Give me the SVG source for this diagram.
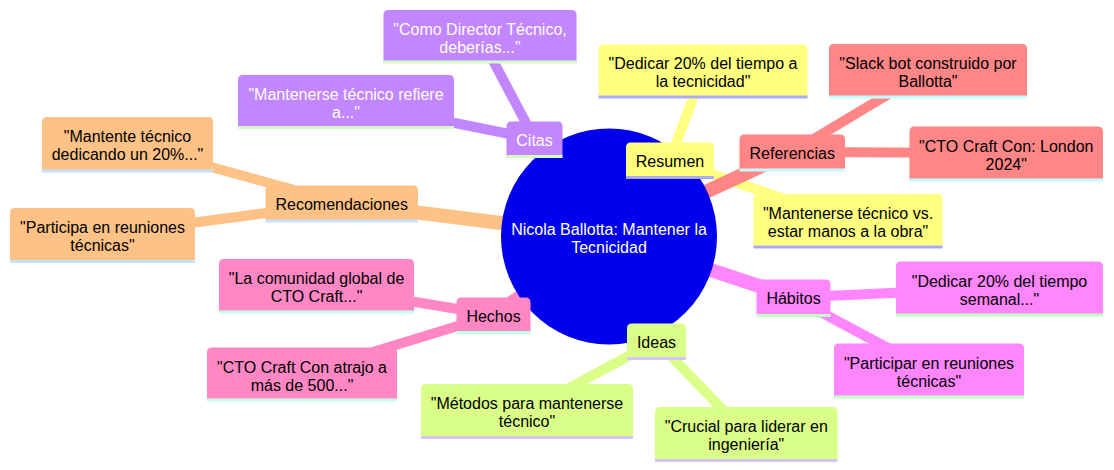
<svg xmlns="http://www.w3.org/2000/svg" width="1114" height="470" viewBox="0 0 1114 470">
<style>
text{font-family:"Liberation Sans",Arial,Helvetica,sans-serif;font-size:16px;text-anchor:middle;fill:#000}
.w text,text.w{fill:#fff}
.e line{stroke-linecap:butt}
.d1{stroke-width:14}
.d2{stroke-width:10}
.bar{stroke-width:3}
.s-cit{fill:#c286ff;stroke:#c286ff}
.s-res{fill:#ffff80;stroke:#ffff80}
.s-ref{fill:#ff8686;stroke:#ff8686}
.s-hab{fill:#ff86ff;stroke:#ff86ff}
.s-ide{fill:#d9ff88;stroke:#d9ff88}
.s-hec{fill:#ff88c4;stroke:#ff88c4}
.s-rec{fill:#ffc286;stroke:#ffc286}
path.s-cit,path.s-res,path.s-ref,path.s-hab,path.s-ide,path.s-hec,path.s-rec{stroke:none}
.b-cit{stroke:#d4fcc4}
.b-res{stroke:#aaaaff}
.b-ref{stroke:#c4ffff}
.b-hab{stroke:#c4ffc4}
.b-ide{stroke:#d4c4ff}
.b-hec{stroke:#c4ffe2}
.b-rec{stroke:#c4e2ff}
</style>
<g id="connectors" class="e">
  <!-- Citas -->
  <line class="s-cit d1" x1="609" y1="236.5" x2="534.5" y2="139"/>
  <line class="s-cit d2" x1="534.5" y1="139" x2="480" y2="36"/>
  <line class="s-cit d2" x1="534.5" y1="139" x2="346" y2="101"/>
  <!-- Resumen -->
  <line class="s-res d1" x1="609" y1="236.5" x2="670" y2="160"/>
  <line class="s-res d2" x1="670" y1="160" x2="703" y2="70.7"/>
  <line class="s-res d2" x1="670" y1="160" x2="848" y2="220.5"/>
  <!-- Referencias -->
  <line class="s-ref d1" x1="609" y1="236.5" x2="792" y2="152"/>
  <line class="s-ref d2" x1="792" y1="152" x2="928" y2="70.5"/>
  <line class="s-ref d2" x1="792" y1="152" x2="1006" y2="153"/>
  <!-- Habitos -->
  <line class="s-hab d1" x1="609" y1="236.5" x2="793.5" y2="297.5"/>
  <line class="s-hab d2" x1="793.5" y1="297.5" x2="999.5" y2="288"/>
  <line class="s-hab d2" x1="793.5" y1="297.5" x2="929" y2="370"/>
  <!-- Ideas -->
  <line class="s-ide d1" x1="609" y1="236.5" x2="656.5" y2="341"/>
  <line class="s-ide d2" x1="656.5" y1="341" x2="527" y2="410.7"/>
  <line class="s-ide d2" x1="656.5" y1="341" x2="746" y2="433.7"/>
  <!-- Hechos -->
  <line class="s-hec d1" x1="609" y1="236.5" x2="493.5" y2="315"/>
  <line class="s-hec d2" x1="493.5" y1="315" x2="316.5" y2="285.5"/>
  <line class="s-hec d2" x1="493.5" y1="315" x2="302" y2="373.7"/>
  <!-- Recomendaciones -->
  <line class="s-rec d1" x1="609" y1="236.5" x2="341.7" y2="203"/>
  <line class="s-rec d2" x1="341.7" y1="203" x2="127.5" y2="144"/>
  <line class="s-rec d2" x1="341.7" y1="203" x2="102.5" y2="234.7"/>
</g>

<g id="root">
  <circle cx="609" cy="236.5" r="108" fill="#0000ec"/>
  <text class="w" x="609" y="235">Nicola Ballotta: Mantener la</text>
  <text class="w" x="609" y="253">Tecnicidad</text>
</g>

<!-- Citas -->
<g id="citas" class="w" transform="translate(506.5,121.5)">
  <path class="s-cit" d="M0,35V5Q0,0 5,0H51Q56,0 56,5V35Z"/>
  <line class="bar b-cit" x1="0" y1="35" x2="56" y2="35"/>
  <text x="28" y="24">Citas</text>
</g>
<g id="citas-1" class="w" transform="translate(383.5,10)">
  <path class="s-cit" d="M0,52V5Q0,0 5,0H188Q193,0 193,5V52Z"/>
  <line class="bar b-cit" x1="0" y1="52" x2="193" y2="52"/>
  <text x="96.5" y="25">"Como Director Técnico,</text>
  <text x="96.5" y="43">deberías..."</text>
</g>
<g id="citas-2" class="w" transform="translate(238,75)">
  <path class="s-cit" d="M0,52.5V5Q0,0 5,0H211Q216,0 216,5V52.5Z"/>
  <line class="bar b-cit" x1="0" y1="52.5" x2="216" y2="52.5"/>
  <text x="108" y="25">"Mantenerse técnico refiere</text>
  <text x="108" y="43">a..."</text>
</g>

<!-- Resumen -->
<g id="resumen" transform="translate(626,142.5)">
  <path class="s-res" d="M0,35V5Q0,0 5,0H83Q88,0 88,5V35Z"/>
  <line class="bar b-res" x1="0" y1="35" x2="88" y2="35"/>
  <text x="44" y="24">Resumen</text>
</g>
<g id="resumen-1" transform="translate(598.5,44.5)">
  <path class="s-res" d="M0,52.5V5Q0,0 5,0H204Q209,0 209,5V52.5Z"/>
  <line class="bar b-res" x1="0" y1="52.5" x2="209" y2="52.5"/>
  <text x="104.5" y="24.5">"Dedicar 20% del tiempo a</text>
  <text x="104.5" y="42.5">la tecnicidad"</text>
</g>
<g id="resumen-2" transform="translate(753.5,194)">
  <path class="s-res" d="M0,53V5Q0,0 5,0H184Q189,0 189,5V53Z"/>
  <line class="bar b-res" x1="0" y1="53" x2="189" y2="53"/>
  <text x="94.5" y="25">"Mantenerse técnico vs.</text>
  <text x="94.5" y="43">estar manos a la obra"</text>
</g>

<!-- Referencias -->
<g id="referencias" transform="translate(739.5,134.5)">
  <path class="s-ref" d="M0,35.5V5Q0,0 5,0H100.5Q105.5,0 105.5,5V35.5Z"/>
  <line class="bar b-ref" x1="0" y1="35.5" x2="105.5" y2="35.5"/>
  <text x="52.75" y="24">Referencias</text>
</g>
<g id="referencias-1" transform="translate(829,44)">
  <path class="s-ref" d="M0,53V5Q0,0 5,0H193Q198,0 198,5V53Z"/>
  <line class="bar b-ref" x1="0" y1="53" x2="198" y2="53"/>
  <text x="99" y="24.5">"Slack bot construido por</text>
  <text x="99" y="42.5">Ballotta"</text>
</g>
<g id="referencias-2" transform="translate(909.5,126.5)">
  <path class="s-ref" d="M0,53.5V5Q0,0 5,0H188.5Q193.5,0 193.5,5V53.5Z"/>
  <line class="bar b-ref" x1="0" y1="53.5" x2="193.5" y2="53.5"/>
  <text x="96.75" y="25">"CTO Craft Con: London</text>
  <text x="96.75" y="43">2024"</text>
</g>

<!-- Recomendaciones -->
<g id="recomendaciones" transform="translate(265.5,185.5)">
  <path class="s-rec" d="M0,35.5V5Q0,0 5,0H147.5Q152.5,0 152.5,5V35.5Z"/>
  <line class="bar b-rec" x1="0" y1="35.5" x2="152.5" y2="35.5"/>
  <text x="76.25" y="24">Recomendaciones</text>
</g>
<g id="recomendaciones-1" transform="translate(42,117)">
  <path class="s-rec" d="M0,54V5Q0,0 5,0H166Q171,0 171,5V54Z"/>
  <line class="bar b-rec" x1="0" y1="54" x2="171" y2="54"/>
  <text x="85.5" y="25">"Mantente técnico</text>
  <text x="85.5" y="43">dedicando un 20%..."</text>
</g>
<g id="recomendaciones-2" transform="translate(10,208)">
  <path class="s-rec" d="M0,53.5V5Q0,0 5,0H180Q185,0 185,5V53.5Z"/>
  <line class="bar b-rec" x1="0" y1="53.5" x2="185" y2="53.5"/>
  <text x="92.5" y="25">"Participa en reuniones</text>
  <text x="92.5" y="43">técnicas"</text>
</g>

<!-- Hechos -->
<g id="hechos" transform="translate(456.5,297.5)">
  <path class="s-hec" d="M0,35V5Q0,0 5,0H69Q74,0 74,5V35Z"/>
  <line class="bar b-hec" x1="0" y1="35" x2="74" y2="35"/>
  <text x="37" y="24">Hechos</text>
</g>
<g id="hechos-1" transform="translate(219,259)">
  <path class="s-hec" d="M0,53V5Q0,0 5,0H190Q195,0 195,5V53Z"/>
  <line class="bar b-hec" x1="0" y1="53" x2="195" y2="53"/>
  <text x="97.5" y="25">"La comunidad global de</text>
  <text x="97.5" y="43">CTO Craft..."</text>
</g>
<g id="hechos-2" transform="translate(207,347.5)">
  <path class="s-hec" d="M0,52.5V5Q0,0 5,0H185Q190,0 190,5V52.5Z"/>
  <line class="bar b-hec" x1="0" y1="52.5" x2="190" y2="52.5"/>
  <text x="95" y="25">"CTO Craft Con atrajo a</text>
  <text x="95" y="43">más de 500..."</text>
</g>

<!-- Ideas -->
<g id="ideas" transform="translate(627,323.5)">
  <path class="s-ide" d="M0,35V5Q0,0 5,0H54Q59,0 59,5V35Z"/>
  <line class="bar b-ide" x1="0" y1="35" x2="59" y2="35"/>
  <text x="29.5" y="24">Ideas</text>
</g>
<g id="ideas-1" transform="translate(421,384)">
  <path class="s-ide" d="M0,53.5V5Q0,0 5,0H207Q212,0 212,5V53.5Z"/>
  <line class="bar b-ide" x1="0" y1="53.5" x2="212" y2="53.5"/>
  <text x="106" y="25">"Métodos para mantenerse</text>
  <text x="106" y="43">técnico"</text>
</g>
<g id="ideas-2" transform="translate(655,407)">
  <path class="s-ide" d="M0,53.5V5Q0,0 5,0H177.5Q182.5,0 182.5,5V53.5Z"/>
  <line class="bar b-ide" x1="0" y1="53.5" x2="182.5" y2="53.5"/>
  <text x="91.25" y="25">"Crucial para liderar en</text>
  <text x="91.25" y="43">ingeniería"</text>
</g>

<!-- Habitos -->
<g id="habitos" transform="translate(756.5,279.5)">
  <path class="s-hab" d="M0,36V5Q0,0 5,0H69Q74,0 74,5V36Z"/>
  <line class="bar b-hab" x1="0" y1="36" x2="74" y2="36"/>
  <text x="37" y="24.5">Hábitos</text>
</g>
<g id="habitos-1" transform="translate(896,261.5)">
  <path class="s-hab" d="M0,53.5V5Q0,0 5,0H202Q207,0 207,5V53.5Z"/>
  <line class="bar b-hab" x1="0" y1="53.5" x2="207" y2="53.5"/>
  <text x="103.5" y="25">"Dedicar 20% del tiempo</text>
  <text x="103.5" y="43">semanal..."</text>
</g>
<g id="habitos-2" transform="translate(834,343.5)">
  <path class="s-hab" d="M0,53.5V5Q0,0 5,0H185Q190,0 190,5V53.5Z"/>
  <line class="bar b-hab" x1="0" y1="53.5" x2="190" y2="53.5"/>
  <text x="95" y="25">"Participar en reuniones</text>
  <text x="95" y="43">técnicas"</text>
</g>
</svg>
